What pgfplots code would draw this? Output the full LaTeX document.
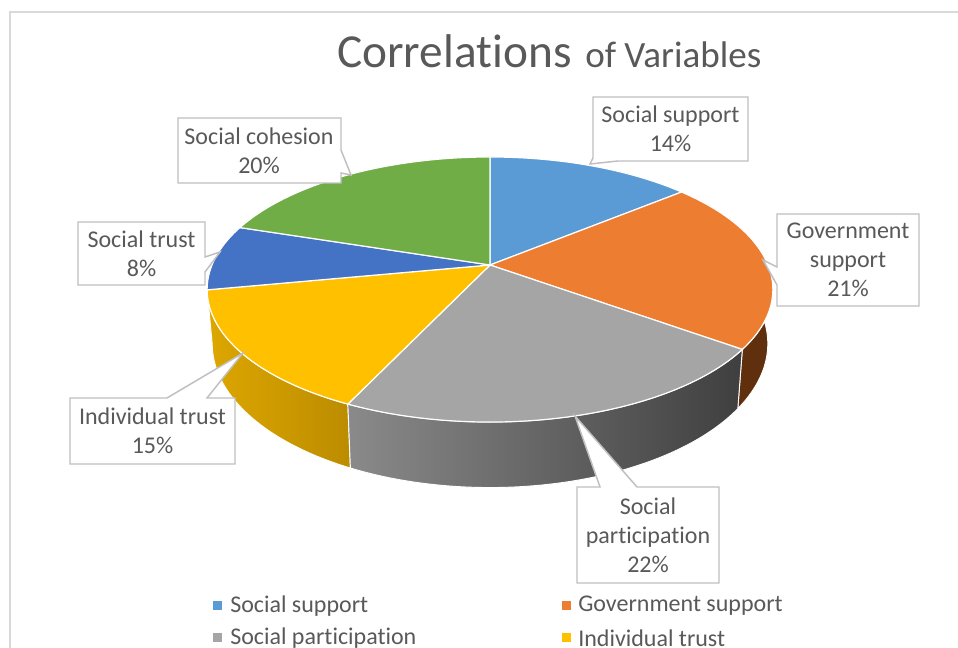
\documentclass[border=0pt]{standalone}
\usepackage{pgfplots}
\pgfplotsset{compat=1.18}
\usepackage{pgfplotstable}
\usepackage{fontspec}
\setmainfont{Carlito}[Ligatures={NoCommon}, RawFeature={-liga}]

\definecolor{cSS}{HTML}{5B9BD5}
\definecolor{cGS}{HTML}{ED7D31}
\definecolor{cSP}{HTML}{A5A5A5}
\definecolor{cIT}{HTML}{FFC000}
\definecolor{cST}{HTML}{4472C4}
\definecolor{cSC}{HTML}{70AD47}
\definecolor{cGSside}{HTML}{5F2F0E}
\definecolor{cSPl}{HTML}{8A8A8A}
\definecolor{cSPm}{HTML}{505050}
\definecolor{cSPr}{HTML}{3F3F3F}
\definecolor{cITl}{HTML}{DDA700}
\definecolor{cITr}{HTML}{BC8C00}
\definecolor{cSTside}{HTML}{2F5597}
\definecolor{cSCside}{HTML}{507E32}
\definecolor{cSSside}{HTML}{2E75B6}
\definecolor{txt}{HTML}{595959}
\definecolor{boxc}{HTML}{BFBFBF}
\definecolor{framec}{HTML}{D9D9D9}

\pgfplotstableread[col sep=comma]{
label,value
Social support,14
Government support,21
Social participation,22
Individual trust,15
Social trust,8
Social cohesion,20
}\piedata

% cumulative angles (clockwise from 12 o'clock)
\def\Aa{90}
\pgfplotstablegetelem{0}{value}\of\piedata\pgfmathsetmacro\Ab{\Aa-3.6*\pgfplotsretval}
\pgfplotstablegetelem{1}{value}\of\piedata\pgfmathsetmacro\Ac{\Ab-3.6*\pgfplotsretval}
\pgfplotstablegetelem{2}{value}\of\piedata\pgfmathsetmacro\Ad{\Ac-3.6*\pgfplotsretval}
\pgfplotstablegetelem{3}{value}\of\piedata\pgfmathsetmacro\Ae{\Ad-3.6*\pgfplotsretval}
\pgfplotstablegetelem{4}{value}\of\piedata\pgfmathsetmacro\Af{\Ae-3.6*\pgfplotsretval}
\pgfplotstablegetelem{5}{value}\of\piedata\pgfmathsetmacro\Ag{\Af-3.6*\pgfplotsretval}

\newcommand\pieside[3]{%
\addplot[#1, draw=white, line width=0.7pt, domain=0:121, samples=122, variable=\t]
 ({\t<60.5 ? topx((#2)+((#3)-(#2))*\t/60) : botx((#3)+((#2)-(#3))*(\t-61)/60)},
  {\t<60.5 ? topy((#2)+((#3)-(#2))*\t/60) : boty((#3)+((#2)-(#3))*(\t-61)/60)}) -- cycle;}

\newcommand\pietop[3]{%
\addplot[fill=#1, draw=white, line width=0.9pt, domain=0:60, samples=61, variable=\t]
 ({topx((#2)+((#3)-(#2))*\t/60)},{topy((#2)+((#3)-(#2))*\t/60)}) -- (axis cs:490,265) -- cycle;}

\newcommand\lblfont{\fontsize{18}{21.8}\selectfont}

\begin{document}
\begin{tikzpicture}[declare function={
 topx(\a)=490+278*cos(\a)/(1+0.185*sin(\a));
 topy(\a)=265-128*sin(\a)/(1+0.185*sin(\a));
 botx(\a)=490+273*cos(\a)/(1+0.185*sin(\a));
 boty(\a)=317-139*sin(\a)/(1+0.185*sin(\a));
}]
\begin{axis}[scale only axis, width=718.5pt, height=486pt,
  xmin=0, xmax=958, ymin=0, ymax=648, y dir=reverse,
  hide axis, clip=false]

% sides, back to front
\pieside{fill=cSSside}{\Aa}{\Ab}
\pieside{fill=cSCside}{\Af}{\Ag}
\pieside{fill=cSTside}{\Ae}{\Af}
\pieside{fill=cGSside}{\Ab}{\Ac}
\pieside{left color=cITl, right color=cITr}{\Ad}{\Ae}
\pieside{left color=cSPl, middle color=cSPm, right color=cSPr}{\Ac}{\Ad}

% top faces
\pietop{cSS}{\Aa}{\Ab}
\pietop{cGS}{\Ab}{\Ac}
\pietop{cSP}{\Ac}{\Ad}
\pietop{cIT}{\Ad}{\Ae}
\pietop{cST}{\Ae}{\Af}
\pietop{cSC}{\Af}{\Ag}

% legend markers
\addplot[only marks, mark=square*, mark size=3pt, color=cSS] coordinates {(217,605)};
\addplot[only marks, mark=square*, mark size=3pt, color=cGS] coordinates {(566,605)};
\addplot[only marks, mark=square*, mark size=3pt, color=cSP] coordinates {(217,637)};
\addplot[only marks, mark=square*, mark size=3pt, color=cIT] coordinates {(566,637)};

% frame
\draw[framec, line width=0.8pt] (axis cs:10,660) -- (axis cs:10,12) -- (axis cs:970,12);

% title
\node[anchor=base west, inner sep=0, text=txt] at (axis cs:337,68)
  {\fontsize{35.5}{40}\selectfont Correlations};
\node[anchor=base west, inner sep=0, text=txt] at (axis cs:585,68)
  {\fontsize{27.8}{32}\selectfont of Variables};

% callout boxes
\begin{scope}[draw=boxc, fill=white, line width=1.1pt]
\filldraw (axis cs:593,97) -- (axis cs:748,97) -- (axis cs:748,161) -- (axis cs:618,161) -- (axis cs:590,164) -- (axis cs:593,158) -- cycle;
\filldraw (axis cs:777,214) -- (axis cs:919,214) -- (axis cs:919,306) -- (axis cs:777,306) -- (axis cs:777,285) -- (axis cs:763,260) -- (axis cs:777,267) -- cycle;
\filldraw (axis cs:178,118) -- (axis cs:341,118) -- (axis cs:341,150) -- (axis cs:351,175) -- (axis cs:341,173) -- (axis cs:341,183) -- (axis cs:178,183) -- cycle;
\filldraw (axis cs:78,222) -- (axis cs:205,222) -- (axis cs:205,257) -- (axis cs:220,252) -- (axis cs:205,272) -- (axis cs:205,285) -- (axis cs:78,285) -- cycle;
\filldraw (axis cs:70,398) -- (axis cs:167,398) -- (axis cs:243,353) -- (axis cs:207,398) -- (axis cs:235,398) -- (axis cs:235,464) -- (axis cs:70,464) -- cycle;
\filldraw (axis cs:577,487) -- (axis cs:600,487) -- (axis cs:575,416) -- (axis cs:637,487) -- (axis cs:719,487) -- (axis cs:719,583) -- (axis cs:577,583) -- cycle;
\end{scope}

\begin{scope}[every node/.style={align=center, inner sep=0, text=txt, font=\lblfont}]
\node at (axis cs:670.5,129) {Social support\\14\%};
\node at (axis cs:848,260) {Government\\support\\21\%};
\node at (axis cs:259,150.5) {Social cohesion\\20\%};
\node at (axis cs:141.5,253.5) {Social trust\\8\%};
\node at (axis cs:152.5,431) {Individual trust\\15\%};
\node at (axis cs:648,535) {Social\\participation\\22\%};
\end{scope}

% legend text
\begin{scope}[every node/.style={anchor=west, inner sep=0, text=txt, font=\lblfont}]
\node at (axis cs:230,606) {Social support};
\node at (axis cs:578,606) {Government support};
\node at (axis cs:230,638) {Social participation};
\node at (axis cs:578,638) {Individual trust};
\end{scope}
\end{axis}
\pgfresetboundingbox
\path (0,0) rectangle (718.5pt,486pt);
\end{tikzpicture}
\end{document}
